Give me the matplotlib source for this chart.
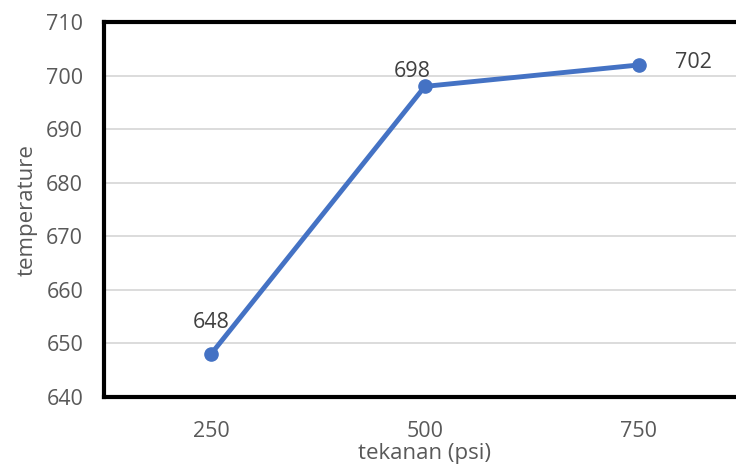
import matplotlib.pyplot as plt

pressure = ["250", "500", "750"]
temperature = [648, 698, 702]
label_offsets = [(0, 23), (-9, 11), (39, 2)]

plt.rcParams["font.family"] = ["Open Sans", "DejaVu Sans"]
grey = "#595959"

fig = plt.figure(figsize=(7.36, 4.68), dpi=100)
ax = fig.add_axes([0.1413, 0.1517, 0.872, 0.801])

x = range(len(pressure))
ax.plot(x, temperature, color="#4472C4", lw=3.5, marker="o", ms=9.5,
        solid_capstyle="round", zorder=3, clip_on=False)
for xi, val, off in zip(x, temperature, label_offsets):
    ax.annotate(str(val), (xi, val), xytext=off, textcoords="offset points",
                ha="center", va="center", fontsize=15.5, color="#404040")

ax.set_xlim(-0.5, 2.5)
ax.set_ylim(640, 710)
ax.set_yticks(range(640, 711, 10))
ax.set_xticks(list(x))
ax.set_xticklabels(pressure)
ax.grid(axis="y", color="#d9d9d9", lw=1.3)
ax.set_axisbelow(True)
ax.tick_params(length=0, labelsize=15.5, colors=grey)
ax.tick_params(axis="x", pad=17)
ax.tick_params(axis="y", pad=15)
for side in ["top", "left", "bottom", "right"]:
    ax.spines[side].set_linewidth(3)
    ax.spines[side].set_color("black")

ax.set_xlabel("tekanan (psi)", fontsize=16, color=grey, labelpad=1)
ax.set_ylabel("temperature", fontsize=16, color=grey, labelpad=6)

fig.savefig("out.png", dpi=100)
